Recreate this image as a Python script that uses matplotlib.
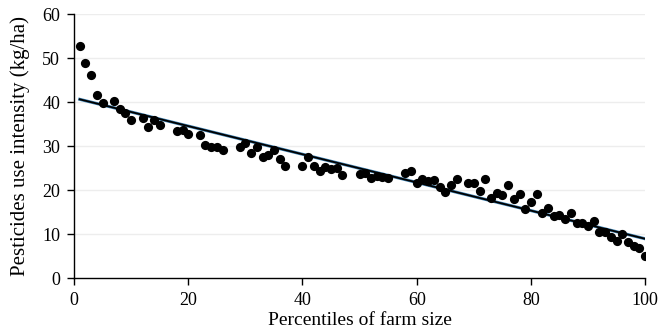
import matplotlib
matplotlib.use("Agg")
import matplotlib.pyplot as plt

percentile = [1, 2, 3, 4, 5, 7, 8, 9, 10, 12, 13, 14, 15, 18, 19, 20, 22, 23, 24, 25,
              26, 29, 30, 31, 32, 33, 34, 35, 36, 37, 40, 41, 42, 43, 44, 45, 46, 47,
              50, 51, 52, 53, 54, 55, 58, 59, 60, 61, 62, 63, 64, 65, 66, 67, 69, 70,
              71, 72, 73, 74, 75, 76, 77, 78, 79, 80, 81, 82, 83, 84, 85, 86, 87, 88,
              89, 90, 91, 92, 93, 94, 95, 96, 97, 98, 99, 100]
intensity = [52.9, 49.0, 46.2, 41.7, 39.9, 40.3, 38.5, 37.7, 35.9, 36.4, 34.4, 36.0, 34.9,
             33.5, 33.7, 32.9, 32.6, 30.3, 29.8, 29.9, 29.2, 29.8, 30.7, 28.5, 29.8, 27.6,
             28.0, 29.2, 27.2, 25.5, 25.5, 27.5, 25.5, 24.5, 25.4, 24.8, 25.0, 23.5,
             23.8, 23.9, 22.8, 23.2, 23.1, 22.9, 24.0, 24.3, 21.6, 22.7, 22.1, 22.3,
             20.8, 19.6, 21.2, 22.6, 21.6, 21.6, 19.9, 22.6, 18.2, 19.5, 18.9, 21.2,
             18.0, 19.1, 15.8, 17.4, 19.1, 14.8, 16.0, 14.1, 14.5, 13.6, 14.9, 12.7,
             12.6, 11.9, 13.1, 10.5, 10.6, 9.3, 8.5, 10.1, 8.2, 7.4, 6.8, 5.1]
trend_x = [1, 100]
trend_y = [40.7, 9.0]

x_ticks = [0, 20, 40, 60, 80, 100]
y_ticks = [0, 10, 20, 30, 40, 50, 60]

plt.rcParams['font.family'] = ['Liberation Serif', 'DejaVu Serif']

fig = plt.figure(figsize=(6.58, 3.35), dpi=100)
ax = fig.add_axes([0.1125, 0.169, 0.868, 0.788])

for yv in y_ticks[1:]:
    ax.axhline(yv, color='#ededed', lw=1.0, zorder=0)

ax.scatter(percentile, intensity, s=44, color='black', zorder=3, linewidths=0)
ax.plot(trend_x, trend_y, color='#3a7fb0', lw=2.2, zorder=2)
ax.plot(trend_x, trend_y, color='black', lw=1.3, zorder=4)

ax.set_xlim(0, 100)
ax.set_ylim(0, 60)
ax.set_xticks(x_ticks)
ax.set_yticks(y_ticks)
ax.tick_params(axis='both', labelsize=13, direction='out', length=5, width=1, color='black')
ax.tick_params(axis='x', pad=5)
ax.tick_params(axis='y', pad=5)
ax.spines['top'].set_visible(False)
ax.spines['right'].set_visible(False)
for s in ['left', 'bottom']:
    ax.spines[s].set_linewidth(1.0)
ax.set_xlabel('Percentiles of farm size', fontsize=14, labelpad=2)
ax.set_ylabel('Pesticides use intensity (kg/ha)', fontsize=15, labelpad=9)

fig.savefig('out.png', dpi=100)
